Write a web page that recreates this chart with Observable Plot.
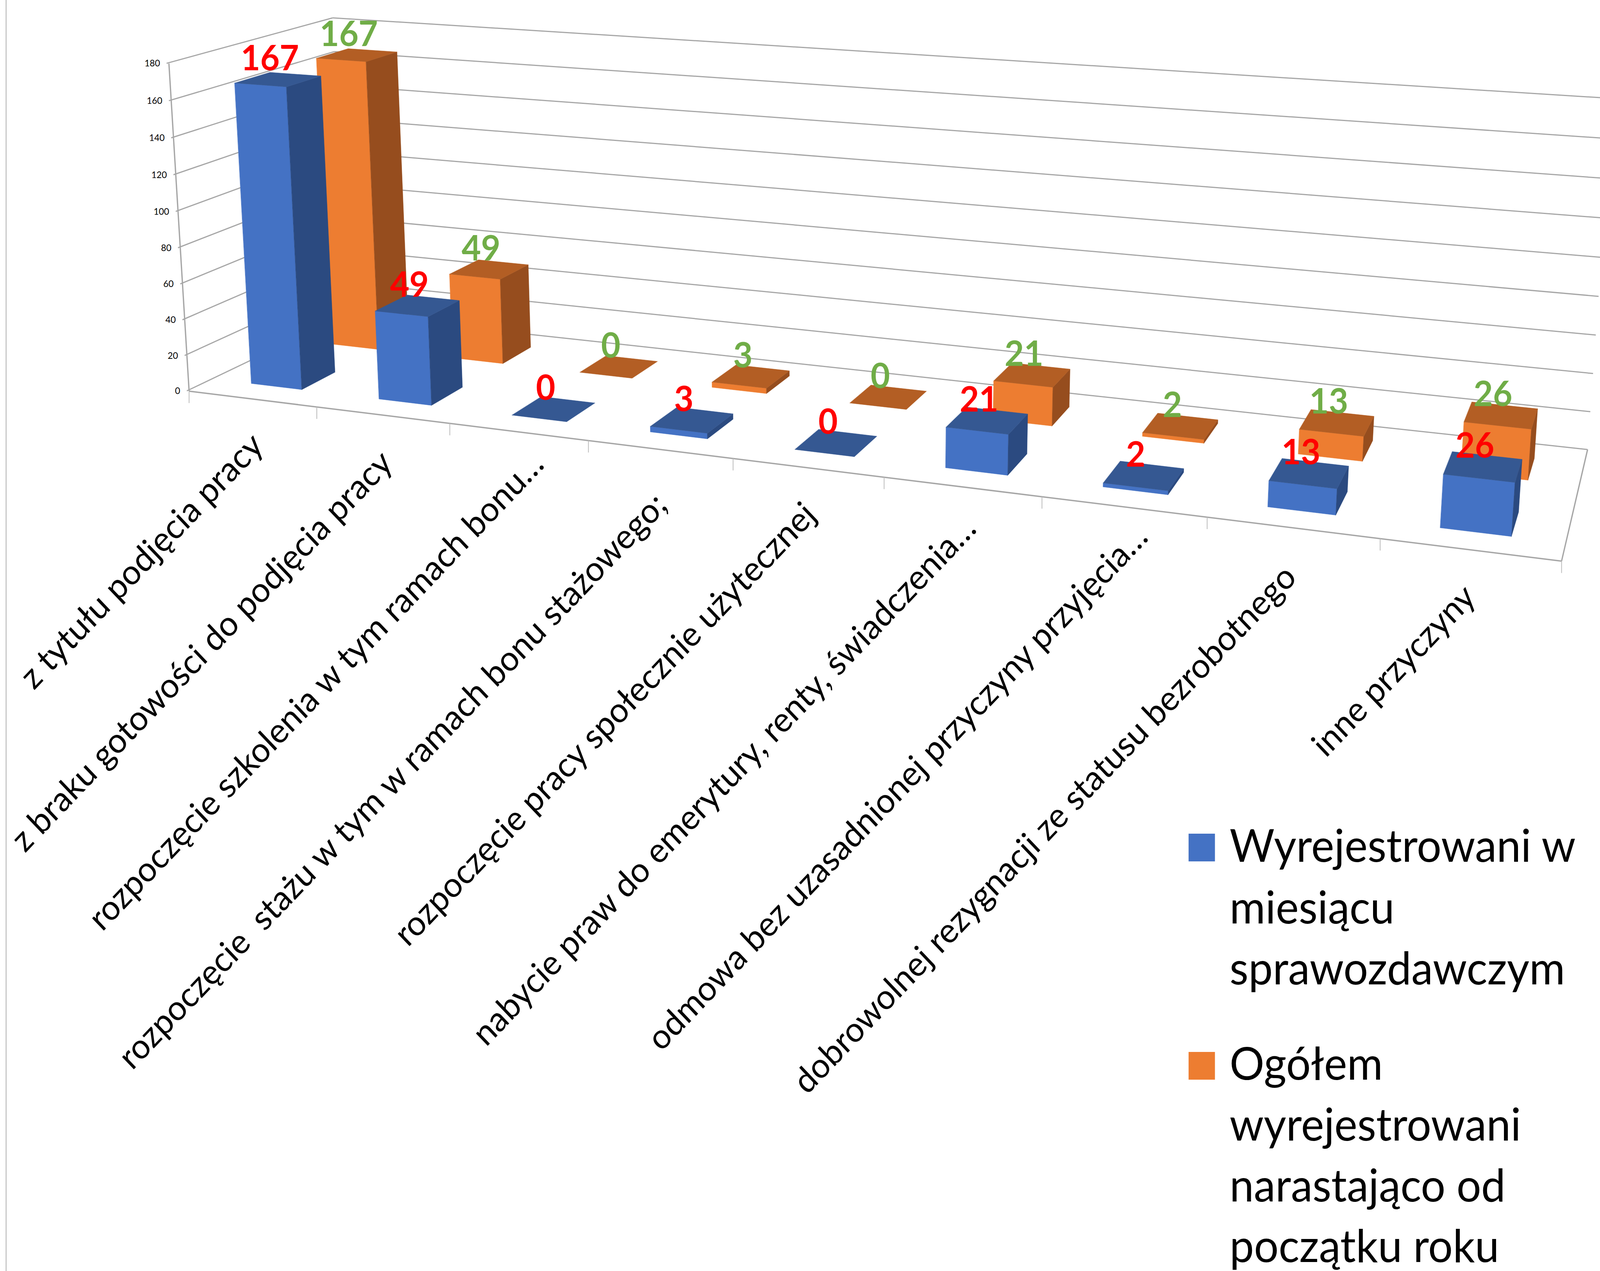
<!DOCTYPE html>
<html><head><meta charset="utf-8">
<script src="https://cdn.jsdelivr.net/npm/d3@7"></script>
<script src="https://cdn.jsdelivr.net/npm/@observablehq/plot@0.6"></script>
<style>html,body{margin:0;padding:0;background:#fff;overflow:hidden}svg{display:block;max-width:none!important}text{white-space:pre}</style>
</head><body><div id="chart"></div>
<script>
const categories = ["z tytułu podjęcia pracy","z braku gotowości do podjęcia pracy","rozpoczęcie szkolenia w tym ramach bonu…","rozpoczęcie  stażu w tym w ramach bonu stażowego;","rozpoczęcie pracy społecznie użytecznej","nabycie praw do emerytury, renty, świadczenia…","odmowa bez uzasadnionej przyczyny przyjęcia…","dobrowolnej rezygnacji ze statusu bezrobotnego","inne przyczyny"];
const monthly = [167,49,0,3,0,21,2,13,26];
const cumulative = [167,49,0,3,0,21,2,13,26];
const valueTicks = [0,20,40,60,80,100,120,140,160,180];
const legendLines = [
  {t:"Wyrejestrowani w",y:2206},{t:"miesiącu",y:2364},{t:"sprawozdawczym",y:2520},
  {t:"Ogółem",y:2764},{t:"wyrejestrowani",y:2920},{t:"narastająco od",y:3076},{t:"początku roku",y:3231}];
const legendSwatches = [{c:"#4472C4",y1:2135,y2:2206},{c:"#ED7D31",y1:2694,y2:2765}];
const labelCenters = [[382,1437],[544,1668],[852,1770],[1058,2000],[1630,1855],[1951,2000],[2418,2017],[2814,2124],[3754,1718]];

// camera calibration: chart box corners (u,v,h) -> page position
const corners = [
  [0,0,0,515,999],[1,0,0,4205,1438],[1,1,0,4276,1149],[0,1,0,926,807],
  [0,0,1,448,163],[0,1,1,902,44],[1,1,1,4342,252]];
const camera = (() => {
  const n=11, M=Array.from({length:n},()=>Array(n+1).fill(0));
  const add=(r,b)=>{for(let i=0;i<n;i++){for(let j=0;j<n;j++)M[i][j]+=r[i]*r[j];M[i][n]+=r[i]*b;}};
  for(const [u,v,h,x0,y0] of corners){const x=x0/1000,y=y0/1000;
    add([u,v,h,1,0,0,0,0,-x*u,-x*v,-x*h],x);
    add([0,0,0,0,u,v,h,1,-y*u,-y*v,-y*h],y);}
  for(let i=0;i<n;i++){let p=i;for(let k=i+1;k<n;k++)if(Math.abs(M[k][i])>Math.abs(M[p][i]))p=k;
    [M[i],M[p]]=[M[p],M[i]];
    for(let k=0;k<n;k++)if(k!==i){const f=M[k][i]/M[i][i];for(let j=i;j<=n;j++)M[k][j]-=f*M[i][j];}}
  return M.map((r,i)=>r[n]/r[i]);
})();
const project=(u,v,h)=>{const c=camera,w=c[8]*u+c[9]*v+c[10]*h+1;
  return [1000*(c[0]*u+c[1]*v+c[2]*h+c[3])/w,1000*(c[4]*u+c[5]*v+c[6]*h+c[7])/w];};
const maxV=180,nCat=categories.length;
const barW=0.40,barD=0.42;
const U=c=>c/nCat, H=d=>d/maxV;

const palette=[{front:"#4472C4",top:"#355892",side:"#2B4A80"},{front:"#ED7D31",top:"#B35E24",side:"#964D1E"}];
const faces=[];let fid=0;
function addFace(pts,color){const id=fid++;for(const p of pts){const [x,y]=project(...p);faces.push({id,x,y,color});}}
for(const s of [1,0]){const vals=s?cumulative:monthly;
  vals.forEach((val,i)=>{
    const u0=U(i+(1-barW)/2),u1=U(i+(1+barW)/2),v0=(s+(1-barD)/2)/2,v1=(s+(1+barD)/2)/2,h=H(val),col=palette[s];
    if(val>0){addFace([[u0,v0,0],[u1,v0,0],[u1,v0,h],[u0,v0,h]],col.front);
      addFace([[u1,v0,0],[u1,v1,0],[u1,v1,h],[u1,v0,h]],col.side);}
    addFace([[u0,v0,h],[u1,v0,h],[u1,v1,h],[u0,v1,h]],col.top);
  });}
const center=(i,s,val)=>project(U(i+.5),(s+.5)/2,H(val));
const labelRows=s=>(s?cumulative:monthly).map((val,i)=>{const [x,y]=center(i,s,val);return {x,y,t:String(val)};});

const link=(a,b)=>{const [x1,y1]=project(...a),[x2,y2]=project(...b);return {x1,y1,x2,y2};};
const wallLines=valueTicks.flatMap(d=>[link([-0.002,0,H(d)],[0,1,H(d)]),link([0,1,H(d)],[1,1,H(d)])]);
const floorLines=[link([0,0,0],[1,0,0]),link([1,0,0],[1,1,0]),link([0,0,1],[0,0,0])];
const catTicks=d3.range(nCat+1).map(c=>{const [x,y]=project(U(c),0,0);return {x,y};});
const cstr={x1:"x1",y1:"y1",x2:"x2",y2:"y2"};
const chart=Plot.plot({width:4309,height:3255,margin:0,
  style:{background:"#fff",fontFamily:"Lato"},
  x:{domain:[0,4309],range:[0,4309],axis:null},
  y:{domain:[0,3255],range:[0,3255],axis:null},
  color:{type:"identity"},
  marks:[
    Plot.ruleX([16],{stroke:"#c4c4c4",strokeWidth:3}),
    Plot.link(wallLines,{...cstr,stroke:"#a6a6a6",strokeWidth:3}),
    Plot.link(floorLines,{...cstr,stroke:"#a6a6a6",strokeWidth:3.5}),
    Plot.ruleX(catTicks,{x:"x",y1:"y",y2:d=>d.y+31,stroke:"#b8b8b8",strokeWidth:2}),
    Plot.text(valueTicks,{x:d=>project(0,0,H(d))[0],y:d=>project(0,0,H(d))[1],text:d=>String(d),dx:-24,textAnchor:"end",fontSize:24,fill:"#000"}),
    Plot.line(faces,{x:"x",y:"y",z:"id",fill:"color",stroke:"color",strokeWidth:.6,curve:"linear-closed"}),
    Plot.text(labelRows(1),{x:"x",y:"y",text:"t",dx:-22,dy:-52,fontSize:90,fontWeight:700,fill:"#70AD47"}),
    Plot.text(labelRows(0),{x:"x",y:"y",text:"t",dx:-22,dy:-52,fontSize:90,fontWeight:700,fill:"#FF0000"}),
    Plot.text(categories,{x:(d,i)=>labelCenters[i][0],y:(d,i)=>labelCenters[i][1],text:d=>d,rotate:-45,fontSize:88.5,fill:"#000"}),
    Plot.rect(legendSwatches,{x1:3201,x2:3272,y1:"y1",y2:"y2",fill:"c"}),
    Plot.text(legendLines,{x:3311,y:"y",text:"t",textAnchor:"start",lineAnchor:"bottom",fontSize:117,fill:"#000"})
  ]});
// the browser window may be narrower than the reference: fit the whole drawing to it
chart.setAttribute("width",window.innerWidth);
chart.setAttribute("height",window.innerHeight);
chart.setAttribute("preserveAspectRatio","none");
document.getElementById("chart").append(chart);
</script></body></html>
